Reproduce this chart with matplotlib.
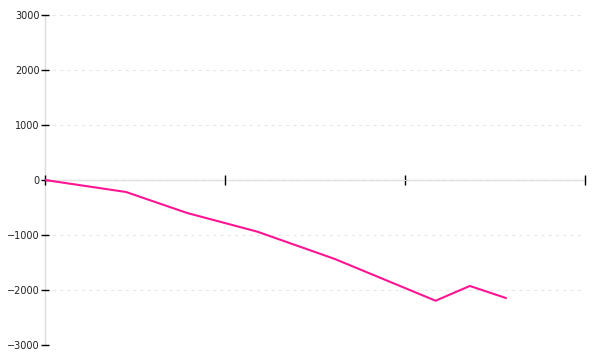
import matplotlib
matplotlib.use("Agg")
import matplotlib.pyplot as plt

# series (x in tick units, y in value units)
x_vals = [0.0, 0.45, 0.79, 1.18, 1.61, 2.17, 2.36, 2.56]
y_vals = [0, -218, -600, -940, -1436, -2195, -1927, -2145]
x_ticks = [0, 1, 2, 3]
y_ticks = [-3000, -2000, -1000, 0, 1000, 2000, 3000]

fig = plt.figure(figsize=(6, 3.6), dpi=100)
ax = fig.add_axes([0.075, 0.0417, 0.9, 0.9166])

ax.plot(x_vals, y_vals, color="#ff1493", linewidth=1.5, solid_joinstyle="miter", zorder=3)

ax.set_xlim(0, 3)
ax.set_ylim(-3000, 3000)
ax.set_xticks(x_ticks)
ax.set_xticklabels([])
ax.set_yticks(y_ticks)

# light dotted horizontal grid
ax.yaxis.grid(True, color="#e6e6e6", linestyle=(0, (3, 4)), linewidth=0.75)
ax.set_axisbelow(True)

for side in ("top", "right"):
    ax.spines[side].set_visible(False)
for side in ("left", "bottom"):
    ax.spines[side].set_color("#dddddd")
    ax.spines[side].set_linewidth(1)
    ax.spines[side].set_zorder(0.4)  # keep the black ticks on top of the grey axis lines
ax.spines["bottom"].set_position(("data", 0))

ax.tick_params(axis="x", direction="inout", length=7, width=1, color="black")
ax.tick_params(axis="y", direction="inout", length=6, width=1, color="black",
               labelsize=7, labelcolor="#222222", pad=1)

fig.savefig("out.png", dpi=100)
